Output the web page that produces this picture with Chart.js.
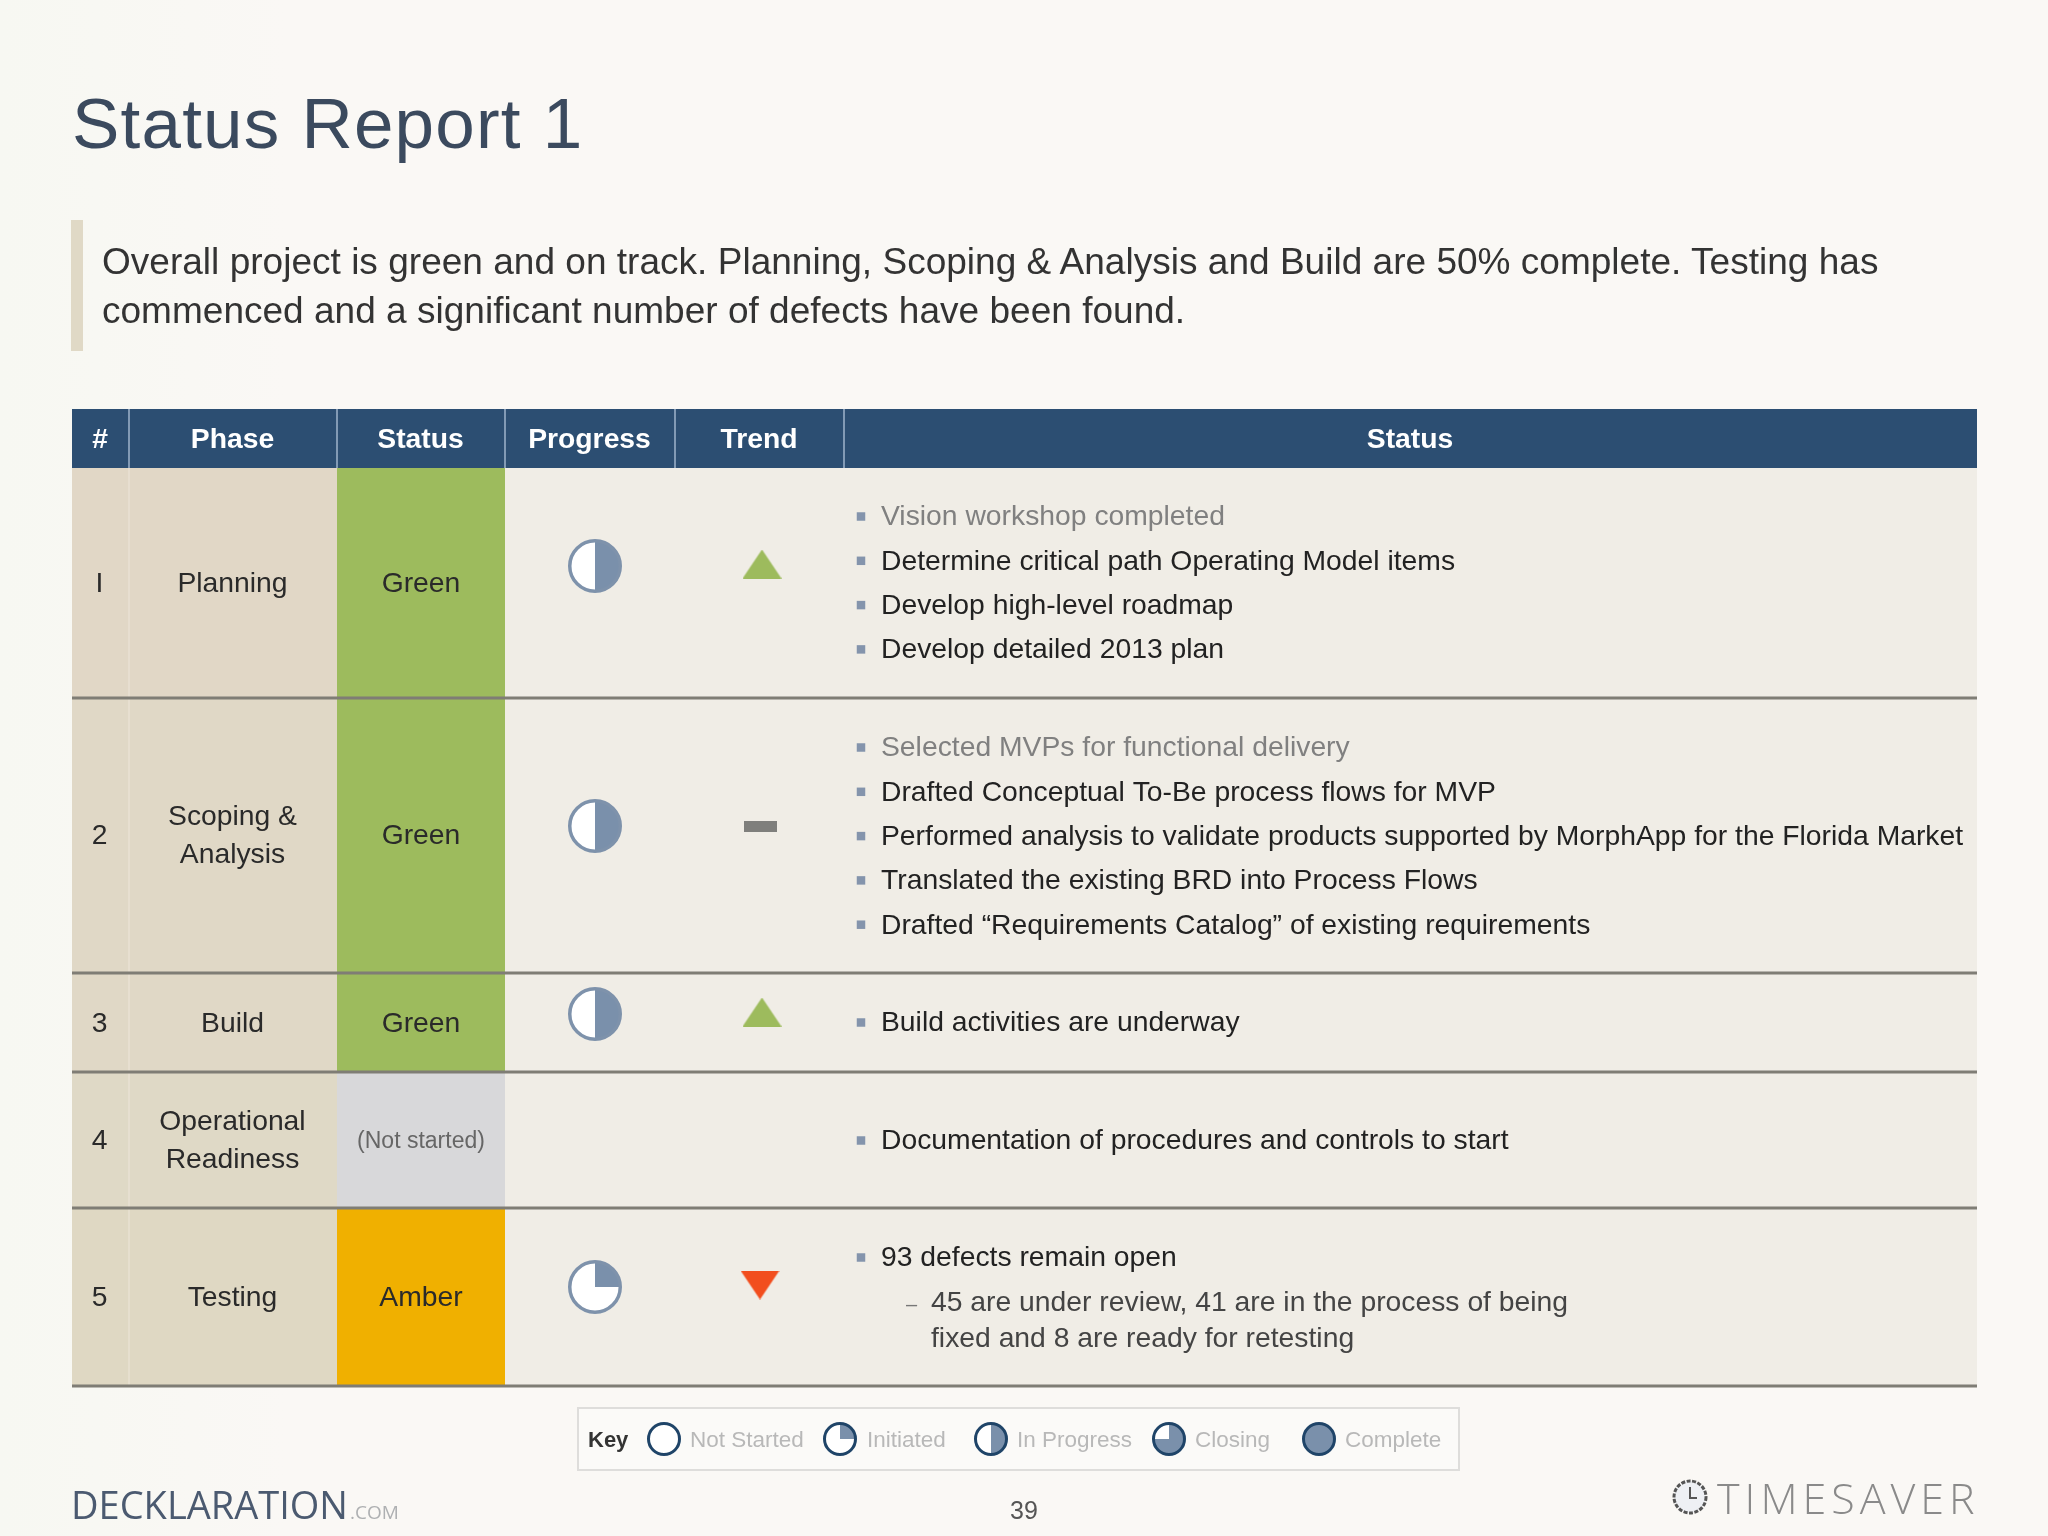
<!DOCTYPE html>
<html>
<head>
<meta charset="utf-8">
<script src="https://cdn.jsdelivr.net/npm/chart.js@4/dist/chart.umd.min.js"></script>
<style>
html, body { margin: 0; padding: 0; }
body { width: 2048px; height: 1536px; position: relative; overflow: hidden;
  background: linear-gradient(90deg, #f7f8f2 0, #faf8f5 14%, #faf8f5 100%);
  font-family: "Liberation Sans", Arial, sans-serif; }
canvas { position: absolute; left: 0; top: 0; }
.t { position: absolute; white-space: nowrap; line-height: 1; }
#title { left: 72px; top: 88px; font-size: 71px; letter-spacing: 1.2px; color: #3b4a5e; }
.lead { left: 102px; font-size: 37px; letter-spacing: 0.02px; color: #333; }
#keybox { position: absolute; left: 577px; top: 1407px; width: 879px; height: 60px; border: 2px solid #dedddb; background: #fbfaf8; }
#brand { left: 71px; top: 1485px; font-family: "Open Sans", sans-serif; font-size: 38px; color: #4b5a70; }
#brand span { font-size: 19px; color: #aeb0b2; margin-left: 2px; }
#page { left: 1010px; top: 1498px; font-size: 25px; color: #555; }
#saver { left: 1717px; top: 1476px; font-family: "Open Sans", sans-serif; font-weight: 300; font-size: 43px; letter-spacing: 5px; color: #8a8a8a; }
#clock { position: absolute; left: 1671px; top: 1478px; }
</style>
</head>
<body>
<div id="keybox"></div>
<canvas id="slide" width="2048" height="1536"></canvas>
<div class="t" id="title">Status Report 1</div>
<div class="t lead" style="top:243px">Overall project is green and on track. Planning, Scoping &amp; Analysis and Build are 50% complete. Testing has</div>
<div class="t lead" style="top:292px">commenced and a significant number of defects have been found.</div>
<div class="t" id="brand">DECKLARATION<span>.COM</span></div>
<div class="t" id="page">39</div>
<svg id="clock" width="38" height="38" viewBox="0 0 38 38">
  <circle cx="19" cy="19" r="16" fill="#eef0f4" stroke="#555" stroke-width="3" stroke-dasharray="4 1.5"/>
  <path d="M19 9 V20 H26" fill="none" stroke="#555" stroke-width="2"/>
</svg>
<div class="t" id="saver">TIMESAVER</div>

<script>
// table content
const headers = ["#", "Phase", "Status", "Progress", "Trend", "Status"];
const rowNums = ["I", "2", "3", "4", "5"];
const phases = [["Planning"], ["Scoping &", "Analysis"], ["Build"], ["Operational", "Readiness"], ["Testing"]];
const statuses = ["Green", "Green", "Green", "(Not started)", "Amber"];
const progress = [50, 50, 50, null, 25];
const trend = [1, 0, 1, null, -1];
const details = [
  ["Vision workshop completed", "Determine critical path Operating Model items", "Develop high-level roadmap", "Develop detailed 2013 plan"],
  ["Selected MVPs for functional delivery", "Drafted Conceptual To-Be process flows for MVP", "Performed analysis to validate products supported by MorphApp for the Florida Market", "Translated the existing BRD into Process Flows", "Drafted \u201cRequirements Catalog\u201d of existing requirements"],
  ["Build activities are underway"],
  ["Documentation of procedures and controls to start"],
  ["93 defects remain open"]
];
const doneLines = [1, 1, 0, 0, 0];
const subDetails = ["45 are under review, 41 are in the process of being", "fixed and 8 are ready for retesting"];
const keyLabels = ["Not Started", "Initiated", "In Progress", "Closing", "Complete"];
const keyLevels = [0, 25, 50, 75, 100];

// layout in slide units
const colEdges = [72, 129, 337, 505, 675, 844, 1977];
const headTop = 409;
const rowEdges = [468, 698, 973, 1072, 1208, 1386];
const rowMid = [584.5, 836.5, 1024.5, 1141.5, 1298.5];
const glyphY = [566, 826, 1014, 1140, 1287];
const detailTop = [517.5, 748.5, 1023.5, 1141.5, 1258.5];
const detailStep = 44.3;
const progressX = 595, trendX = [762, 760, 762, null, 760], bulletX = 861, detailX = 881;
const keyGlyphX = [664, 840, 991, 1169, 1319];
const keyTextX = [690, 867, 1017, 1195, 1345];
const keyY = 1439, keyTextY = 1441;

const statusColors = { "Green": "#9dbb5d", "(Not started)": "#d8d8da", "Amber": "#f0b000" };
const phaseColors = ["#e1d7c6", "#e0d8c6", "#e0d8c6", "#dfd9c6", "#dfd8c3"];
const bodyColor = "#f0ede6", headColor = "#2c4e72", lineColor = "#7f7d75";

// every table cell is one floating bar
function cell(x0, x1, y0, y1, color, order) {
  return {
    type: "bar", indexAxis: "y", stack: "table", order: order,
    data: [{ x: [x0, x1], y: (y0 + y1) / 2 }],
    barThickness: y1 - y0, backgroundColor: color, borderWidth: 0, inflateAmount: 0
  };
}

function pieGlyph(pct, r, fill, stroke, lw) {
  const c = document.createElement("canvas");
  c.width = c.height = 2 * r + 2;
  const g = c.getContext("2d"), m = r + 1, start = -Math.PI / 2;
  g.beginPath(); g.arc(m, m, r - lw / 2, 0, 2 * Math.PI); g.fillStyle = "#fff"; g.fill();
  if (pct > 0) {
    g.beginPath(); g.moveTo(m, m);
    g.arc(m, m, r - lw / 2, start, start + 2 * Math.PI * pct / 100);
    g.closePath(); g.fillStyle = fill; g.fill();
  }
  g.beginPath(); g.arc(m, m, r - lw / 2, 0, 2 * Math.PI);
  g.strokeStyle = stroke; g.lineWidth = lw; g.stroke();
  return c;
}

function trendGlyph(dir) {
  const c = document.createElement("canvas");
  const g = c.getContext("2d");
  if (dir === 0) {
    c.width = 33; c.height = 11;
    g.fillStyle = "#7f7f7c"; g.fillRect(0, 0, 33, 11);
    return c;
  }
  c.width = 39; c.height = 29;
  g.beginPath();
  if (dir > 0) { g.moveTo(19.5, 0); g.lineTo(39, 29); g.lineTo(0, 29); g.fillStyle = "#9dbb5d"; }
  else { g.moveTo(0, 0); g.lineTo(39, 0); g.lineTo(19.5, 29); g.fillStyle = "#f24e1e"; }
  g.closePath(); g.fill();
  return c;
}

function glyphSet(points, styles) {
  return {
    type: "scatter", order: 0, data: points, pointRadius: 20, showLine: false,
    pointStyle: ctx => styles[ctx.dataIndex]
  };
}

const datasets = [];
// accent bar next to the lead text
datasets.push(cell(71, 83, 220, 351, "#e0d9c6", 10));
// header
for (let c = 0; c < headers.length; c++) {
  datasets.push(cell(colEdges[c], colEdges[c + 1], headTop, rowEdges[0], headColor, 10));
  if (c > 0) datasets.push(cell(colEdges[c] - 0.75, colEdges[c] + 0.75, headTop, rowEdges[0], "#9fb5cc", 5));
}
// body
rowNums.forEach((n, r) => {
  const top = rowEdges[r], bot = rowEdges[r + 1];
  datasets.push(cell(colEdges[0], colEdges[2], top, bot, phaseColors[r], 10));
  datasets.push(cell(colEdges[1] - 0.5, colEdges[1] + 0.5, top, bot, "#ede6d9", 5));
  datasets.push(cell(colEdges[2], colEdges[3], top, bot, statusColors[statuses[r]], 10));
  datasets.push(cell(colEdges[3], colEdges[6], top, bot, bodyColor, 10));
  datasets.push(cell(colEdges[0], colEdges[6], bot - 1.5, bot + 1.5, lineColor, 4));
});

// progress and trend glyphs
const progPts = [], progStyles = [], trendPts = [], trendStyles = [];
rowNums.forEach((n, r) => {
  if (progress[r] !== null) {
    progPts.push({ x: progressX, y: glyphY[r] });
    progStyles.push(pieGlyph(progress[r], 27, "#7a90ab", "#7e92ab", 3.5));
  }
  if (trend[r] !== null) {
    trendPts.push({ x: trendX[r], y: glyphY[r] - (trend[r] ? 2 : 0) });
    trendStyles.push(trendGlyph(trend[r]));
  }
});
datasets.push(glyphSet(progPts, progStyles));
datasets.push(glyphSet(trendPts, trendStyles));
datasets.push(glyphSet(keyLevels.map((l, i) => ({ x: keyGlyphX[i], y: keyY })),
  keyLevels.map(l => pieGlyph(l, 17, "#7a90ab", "#1f4468", 3))));

// bullets
const bulletPts = [];
details.forEach((lines, r) => lines.forEach((t, i) => bulletPts.push({ x: bulletX, y: detailTop[r] - 1 + i * detailStep })));
datasets.push({ type: "scatter", order: 0, data: bulletPts, pointStyle: "rect", pointRadius: 6, pointBorderWidth: 0, backgroundColor: "#8494ac", showLine: false });

const tableText = {
  id: "tableText",
  afterDraw(chart) {
    const ctx = chart.ctx, sx = v => chart.scales.x.getPixelForValue(v), sy = v => chart.scales.y.getPixelForValue(v);
    const put = (s, x, y, font, color, align) => {
      ctx.font = font; ctx.fillStyle = color; ctx.textAlign = align || "center"; ctx.textBaseline = "middle";
      ctx.fillText(s, sx(x), sy(y));
    };
    const F = '"Liberation Sans"';
    const mid = c => (colEdges[c] + colEdges[c + 1]) / 2;
    ctx.save();
    headers.forEach((h, c) => put(h, mid(c) - 0.5, 440, "bold 28.3px " + F, "#fff"));
    rowNums.forEach((n, r) => {
      put(n, mid(0) - 1, rowMid[r], "28.3px " + F, "#2a2a2a");
      phases[r].forEach((p, i) => {
        const y = rowMid[r] + (phases[r].length > 1 ? (i - 0.5) * 38 : 0);
        put(p, mid(1) - 0.5, y, "28.3px " + F, "#2a2a2a");
      });
      if (statuses[r][0] === "(") put(statuses[r], mid(2), rowMid[r], "23px " + F, "#666");
      else put(statuses[r], mid(2), rowMid[r], "28.3px " + F, "#2a2a2a");
      details[r].forEach((t, i) => {
        put(t, detailX, detailTop[r] + i * detailStep, "28.3px " + F, i < doneLines[r] ? "#808080" : "#222", "left");
      });
    });
    put("\u2013", 906, 1305, "20px " + F, "#777", "left");
    subDetails.forEach((t, i) => put(t, 931, 1303 + i * 36, "28.3px " + F, "#444", "left"));
    put("Key", 588, keyTextY, "bold 22px " + F, "#333", "left");
    keyLabels.forEach((k, i) => put(k, keyTextX[i], keyTextY, "22.5px " + F, "#b8b8b8", "left"));
    ctx.restore();
  }
};

new Chart(document.getElementById("slide"), {
  data: { datasets: datasets },
  options: {
    responsive: false, animation: false, devicePixelRatio: 1, events: [],
    layout: { padding: 0, autoPadding: false },
    plugins: { legend: { display: false }, tooltip: { enabled: false }, title: { display: false } },
    scales: {
      x: { type: "linear", min: 0, max: 2048, display: false, offset: false, stacked: false },
      y: { type: "linear", min: 0, max: 1536, reverse: true, display: false, offset: false }
    }
  },
  plugins: [tableText]
});
</script>
</body>
</html>
